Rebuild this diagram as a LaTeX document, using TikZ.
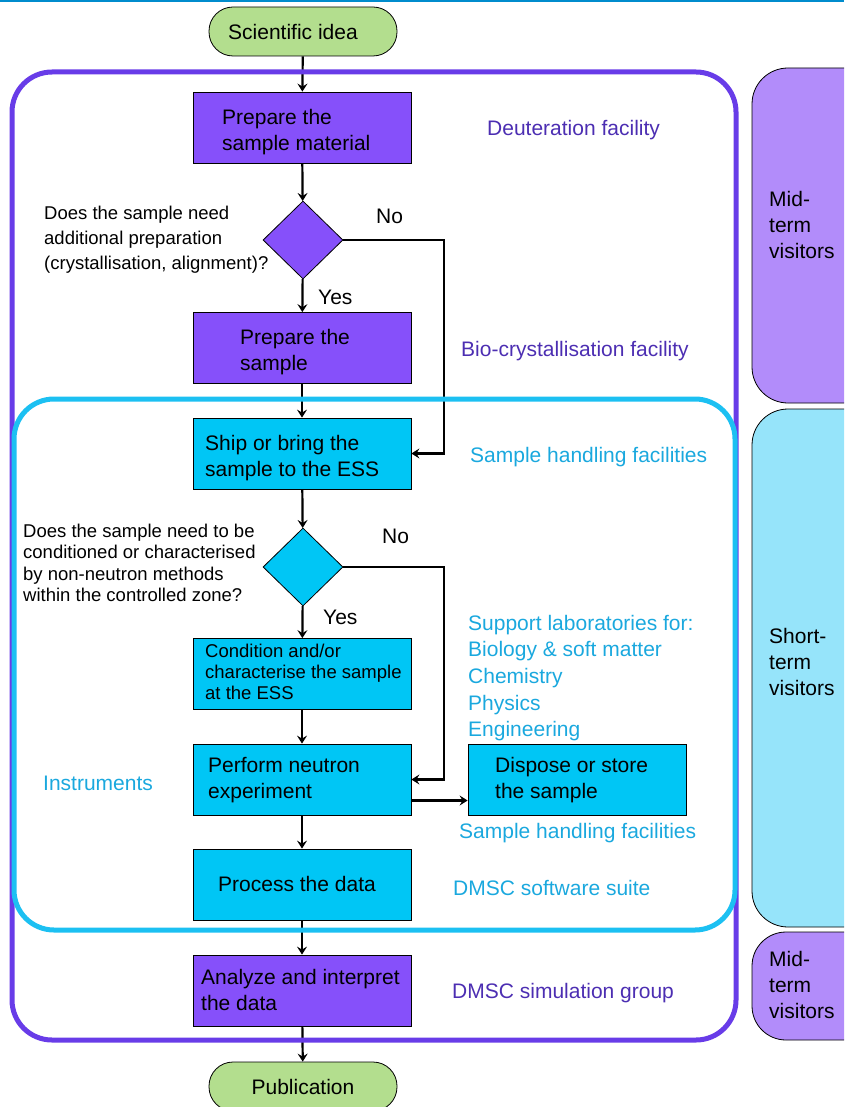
\documentclass[tikz,border=0pt]{standalone}
\usepackage{fontspec}
\setmainfont{Liberation Sans}
\usetikzlibrary{arrows.meta,shapes.geometric}
\definecolor{boxpurple}{RGB}{134,80,250}
\definecolor{framepurple}{RGB}{104,60,232}
\definecolor{cappurple}{RGB}{178,140,250}
\definecolor{boxcyan}{RGB}{0,198,245}
\definecolor{framecyan}{RGB}{28,192,242}
\definecolor{capcyan}{RGB}{150,228,250}
\definecolor{pillgreen}{RGB}{179,222,142}
\definecolor{txtcyan}{RGB}{26,168,222}
\definecolor{txtpurple}{RGB}{76,46,178}
\definecolor{topblue}{RGB}{0,140,205}
\begin{document}
\begin{tikzpicture}[x=1pt,y=-1pt,
  box/.style={draw=black,line width=0.8pt,minimum width=218pt,minimum height=71pt,inner sep=0pt},
  pbox/.style={box,fill=boxpurple},
  cbox/.style={box,fill=boxcyan},
  dia/.style={diamond,draw=black,line width=0.8pt,minimum width=80pt,minimum height=78pt,inner sep=0pt},
  pill/.style={draw=black,line width=0.8pt,fill=pillgreen,rounded corners=24pt,minimum width=188pt,minimum height=49pt,inner sep=0pt,font=\fontsize{21}{26}\selectfont},
  txt/.style={anchor=west,align=left,inner sep=0pt,font=\fontsize{21}{26}\selectfont},
  qtxt/.style={anchor=west,align=left,inner sep=0pt,font=\fontsize{18.5}{25}\selectfont},
  arr/.style={line width=2.2pt,-{Stealth[length=8pt,width=10pt,inset=3pt]}},
  ln/.style={line width=2.2pt}
]
\useasboundingbox (0,0) rectangle (844,1107);
\clip (0,0) rectangle (844,1107);
% top rule
\draw[topblue,line width=2pt] (0,1) -- (844,1);
% side capsules
\draw[fill=cappurple,draw=black,line width=0.8pt,rounded corners=36pt] (752,68) rectangle (890,403);
\draw[fill=capcyan,draw=black,line width=0.8pt,rounded corners=36pt] (752,409) rectangle (890,927);
\draw[fill=cappurple,draw=black,line width=0.8pt,rounded corners=34pt] (752,932) rectangle (890,1040);
\node[txt] (cap1) at (769,225) {Mid-\\term\\visitors};
\node[txt] (cap2) at (769,662) {Short-\\term\\visitors};
\node[txt] (cap3) at (769,985) {Mid-\\term\\visitors};
% nodes
\node[pill] (idea) at (303,31.5) {};
\node[txt] (ideat) at (228,32) {Scientific idea};
\node[pbox] (b1) at (302,127.5) {};
\node[txt] (b1t) at (222,132) {Prepare the\\sample material};
\node[dia,fill=boxpurple] (d1) at (303,240) {};
\node[qtxt] (q1) at (44,240) {Does the sample need\\additional preparation\\(crystallisation, alignment)?};
\node[txt] (no1) at (376,216) {No};
\node[txt] (yes1) at (318,297) {Yes};
\node[pbox] (b2) at (302,348) {};
\node[txt] (b2t) at (240,352) {Prepare the\\sample};
\node[cbox] (b3) at (302,453.5) {};
\node[txt] (b3t) at (205,458) {Ship or bring the\\sample to the ESS};
\node[dia,fill=boxcyan] (d2) at (303,567) {};
\node[qtxt,font=\fontsize{18.5}{21.5}\selectfont] (q2) at (23,563) {Does the sample need to be\\conditioned or characterised\\by non-neutron methods\\within the controlled zone?};
\node[txt] (no2) at (382,536) {No};
\node[txt] (yes2) at (323,617) {Yes};
\node[cbox] (b4) at (302,674) {};
\node[qtxt,font=\fontsize{18.5}{21}\selectfont] (b4t) at (205,672) {Condition and/or\\characterise the sample\\at the ESS};
\node[cbox] (b5) at (302,779.5) {};
\node[txt] (b5t) at (208,780) {Perform neutron\\experiment};
\node[cbox] (b8) at (577,779.5) {};
\node[txt] (b8t) at (495,780) {Dispose or store\\the sample};
\node[cbox] (b6) at (302,884.5) {};
\node[txt] (b6t) at (218,884) {Process the data};
\node[pbox] (b7) at (302,990.5) {};
\node[txt] (b7t) at (201,990) {Analyze and interpret\\the data};
\node[pill] (pub) at (303,1086.5) {Publication};
% side labels
\node[txt,text=txtpurple] (l1) at (487,130) {Deuteration facility};
\node[txt,text=txtpurple] (l2) at (461,351) {Bio-crystallisation facility};
\node[txt,text=txtcyan] (l3) at (470,457) {Sample handling facilities};
\node[txt,text=txtcyan,font=\fontsize{21}{26.7}\selectfont] (l4) at (468,678) {Support laboratories for:\\Biology \& soft matter\\Chemistry\\Physics\\Engineering};
\node[txt,text=txtcyan] (l5) at (43,783) {Instruments};
\node[txt,text=txtcyan] (l6) at (459,833) {Sample handling facilities};
\node[txt,text=txtcyan] (l7) at (453,888) {DMSC software suite};
\node[txt,text=txtpurple] (l8) at (452,993) {DMSC simulation group};
% connectors
\coordinate (k1) at (444,240);
\coordinate (k2) at (444,567);
\draw[arr] (idea) -- (b1);
\draw[arr] (b1) -- (d1);
\draw[arr] (d1) -- (b2);
\draw[arr] (d1.east) -- (k1) |- (b3.east);
\draw[arr] (b2) -- (b3);
\draw[arr] (b3) -- (d2);
\draw[arr] (d2) -- (b4);
\draw[arr] (d2.east) -- (k2) |- (b5.east);
\draw[arr] (b4) -- (b5);
\draw[arr] ([yshift=-21pt]b5.east) -- ([yshift=-21pt]b8.west);
\draw[arr] (b5) -- (b6);
\draw[arr] (b6) -- (b7);
\draw[arr] (b7) -- (pub);
% frames (drawn over connectors)
\draw[framepurple,line width=5pt,rounded corners=40pt] (12,72) rectangle (736,1040);
\draw[framecyan,line width=5pt,rounded corners=40pt] (14,399) rectangle (735,930);
\end{tikzpicture}
\end{document}
